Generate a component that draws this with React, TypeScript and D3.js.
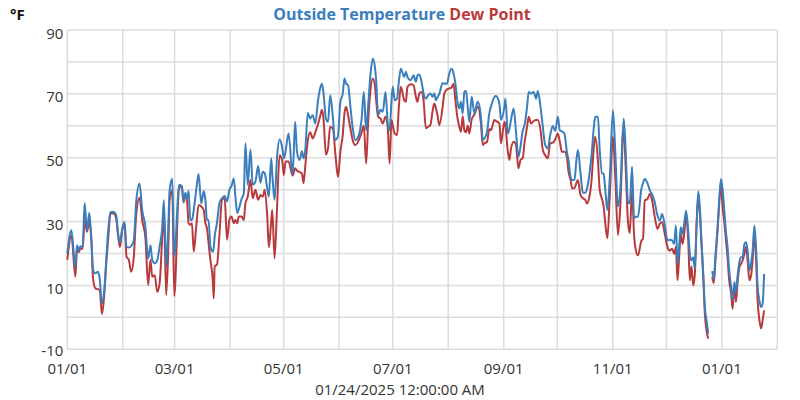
import React from 'react';
import * as d3 from 'd3';

// readings, x = days since 01/01/2024, null = no data
const days = [
  0, 2.3, 4.5, 5.4, 6.4, 7.3, 8.6, 9.7, 11.0, 12.3, 13.5, 14.4, 15.7, 17.2, 18.1, 19.4, 20.8, 21.9, 22.8, 24.1, 26.0, 27.3, 28.4, 29.4, 30.7,
  32.0, 33.1, 34.4, 35.7, 37.2, 38.5, 40.4, 41.9, 43.7, 45.2, 46.5, 47.5, 48.9, 50.3, 51.6, 53.1, 54.0, 55.3, 56.4, 57.2, 58.7, 59.8,
  62.6, 64.1, 65.0, 66.0, 66.9, 67.8, 68.8, 69.7, 70.7, 72.1, 73.4, 74.9, 76.3, 77.2, 78.1, 79.0, 80.0, 81.3, 81.9, 82.4, 83.7, 85.0, 86.5, 88.0, 89.3,
  90.6, 91.8, 93.1, 94.0, 95.0, 95.9, 97.4, 98.7, 99.6, 100.9, 102.4, 103.7, 105.2, 106.7, 108.0, 109.3, 110.4, 111.8, 112.7, 114.0, 114.6, 115.9, 117.3, 118.7, 120.1,
  121.1, 122.0, 123.7, 126.0, 127.4, 128.4, 129.9, 131.2, 132.1, 133.0, 134.5, 135.8, 137.2, 138.7, 140.2, 141.5, 142.4, 143.3, 144.6, 145.8, 147.0, 148.6, 149.6, 150.8, 151.4,
  152.7, 154.0, 155.0, 155.9, 157.0, 158.3, 159.6, 161.1, 163.0, 164.6, 165.8, 167.1, 168.2, 169.5, 170.8, 172.0, 172.7, 173.8, 175.1, 176.4, 177.9, 179.2, 180.2,
  181.3, 182.0, 183.1, 184.4, 185.4, 186.5, 188.4, 189.3, 190.2, 192.1, 193.6, 194.9, 195.8, 196.8, 198.1, 199.2, 200.5, 201.8, 203.0, 204.2, 205.2, 206.1, 207.1, 208.0, 209.9, 210.8,
  212.3, 213.6, 214.9, 216.0, 217.0, 218.3, 219.2, 220.1, 221.1, 222.0, 222.9, 223.9, 224.8, 226.1, 227.6, 229.5, 231.3, 232.3, 233.2, 234.7, 236.0, 236.9, 238.8, 239.7, 241.6,
  242.5, 244.4, 245.0, 246.3, 247.2, 248.1, 249.6, 250.9, 252.2, 253.4, 254.7, 255.6, 257.1, 258.0, 259.3, 260.8, 262.1, 263.1, 264.6, 265.9, 267.2, 268.7, 270.0, 271.5, 272.8,
  274.3, 275.4, 276.5, 278.0, 279.3, 280.3, 281.4, 282.3, 283.6, 284.6, 285.5, 287.0, 288.3, 289.6, 290.7, 292.0, 293.0, 294.5, 295.2, 296.7, 297.7, 299.0, 299.9, 300.8, 302.0, 303.3,
  305.1, 306.4, 307.9, 309.2, 311.1, 312.2, 313.5, 314.5, 315.8, 316.9, 317.6, 319.1, 321.0, 321.9, 322.9, 324.4, 325.7, 327.0, 328.5, 330.0, 331.3, 332.6, 334.1,
  335.6, 336.9, 338.2, 339.3, 340.3, 341.2, 342.1, 343.0, 344.0, 344.9, 346.0, 347.2, 348.1, 349.0, 350.0, 350.9, 351.8, 352.8, 353.7, 354.6, 355.6, 356.5, 357.4, 358.4,
  359.5, 360.6, 361.5, 362.5, 363.6, 364.5, 365.5,
  366.4, 367.3, 368.3, 369.2, 370.1, 371.1, 372.0, 373.0, 373.9, 374.8, 375.8, 376.7, 377.6, 378.6, 379.5, 380.4, 381.4, 382.3, 383.2, 384.2, 385.1, 386.0, 387.0, 387.9, 388.8, 389.6
];

const outsideTemp = [
  20, 27.3, 15.8, 22.6, 21, 22.3, 22, 35.8, 27.3, 32.7, 24.2, 14.8, 13.8, 14.3, 12.2, 4.4, 9.6, 19, 26.8, 33, 33, 32, 26.3, 23.3, 27.8,
  29.9, 22.1, 21.9, 22.3, 24.2, 36.1, 41.9, 33.5, 28.3, 18.4, 22.6, 17.9, 16.9, 17.9, 22.1, 28.3, 36.7, 15.8, 27.3, 39.8, 43.4, 19.2,
  41.5, 41, 36.3, 39, 37.3, 39.6, 30.5, 30.5, 33.6, 39.9, 44.9, 35.7, 39.6, 36.8, 30.5, 30.5, 22.2, 20.6, 22, 25.3, 29.5, 35.7, 37.3, 38, 36.3,
  39.9, 41.1, 43.5, 37.8, 32.6, 33.9, 37, 38.9, 54.5, 41.5, 52.6, 41.5, 42.5, 47.4, 42.2, 45.6, 45.1, 40.4, 37.8, 49.8, 45, 36.8, 50.3, 55.7, 53.4,
  49.8, 51.9, 57.6, 44.6, 61.3, 52, 49.3, 52, 49.8, 52, 64, 62.3, 63.3, 60.7, 68, 72, 73.2, 70, 62.3, 61.3, 69.6, 62, 55.5, 56, 57,
  67.5, 70, 74.8, 73.2, 72.7, 66, 59.2, 55.5, 57, 62.3, 70.6, 58.6, 66, 76, 81, 78.4, 74.3, 63.3, 65, 64.4, 70.6, 60.7, 58.6,
  68, 72.2, 68, 68.5, 74, 77.9, 75.3, 76.9, 75.3, 74.3, 75.8, 73.8, 75.8, 76.1, 73.8, 70.1, 68.5, 69.6, 70.1, 69.1, 70.1, 68, 69.1, 70, 73.4, 73.2,
  73.2, 76.4, 77.9, 76.4, 73.2, 67, 65.4, 67.5, 63.9, 70.6, 71, 66, 61.3, 69.1, 64, 67.5, 62.8, 55.5, 56, 58.1, 64, 66, 69, 69.3, 67,
  61.8, 66, 68.5, 57.6, 59, 61.8, 65.4, 58.1, 50.3, 53.4, 58.6, 60, 66, 70.6, 70.1, 70.6, 68.5, 70.9, 65.9, 59.7, 54, 52.9, 57.1, 59.9, 58.4,
  62.8, 58.6, 58.3, 57.5, 52, 49, 44, 43, 43, 48.8, 52.4, 45, 39, 39, 40.5, 45, 50, 60, 62.8, 62.8, 52.4, 45.1, 45, 40, 33.6, 43.5,
  64.9, 52, 34.7, 40, 62.3, 52.4, 36.3, 35.7, 47.2, 31, 31.5, 31.5, 40.2, 42, 43.3, 42, 39.8, 38.5, 36, 31.9, 30.3, 32.4, 28.8,
  24.1, 24.3, 24.1, 23, 28.8, 16.8, 22, 28.2, 26.1, 29.3, 33.4, 27.1, 19.9, 17.8, 18.8, 15.2, 28.2, 39.5, 34.5, 24.1, 13.6, 3.2, -0.9, -5.1,
  null, 14.5, 12.1, 19.9, 28.2, 36.6, 43.3,
  40.2, 34, 26.7, 22, 14.7, 10, 5.3, 11.1, 7.9, 13.1, 17.3, 18.8, 18.8, 23, 23.5, 20.9, 14.7, 16.8, 20.9, 28.8, 22, 9.5, 5.3, 3.2, 4.3, 13.6
];

const dewPoint = [
  18, 25.7, 12.7, 21, 20.5, 21.5, 21.5, 30.4, 26.8, 30, 23.5, 12.2, 9.1, 8.8, 8.7, 1.0, 8, 18, 24, 32.5, 32.5, 31, 25.7, 22, 27.3,
  29.4, 19, 18, 14.3, 19, 32, 37.5, 30.4, 24.7, 10.1, 18, 12.7, 13.2, 8.0, 10.6, 25.2, 33, 7, 20, 36.7, 39.8, 6.7,
  41, 40.4, 36, 38.3, 36.8, 29.5, 29, 29.5, 20.6, 28.4, 35.2, 34.7, 33.6, 29.5, 27.9, 23.2, 18, 12, 6, 16, 16.5, 25.3, 36.8, 37.3, 24.3,
  30.5, 31.6, 29.5, 30.5, 29.5, 31.6, 31.6, 30.5, 35.7, 37.8, 43, 37.3, 40, 36.8, 38.3, 37.8, 40, 31.6, 22, 30, 33.6, 18.5, 34.7, 50.8, 49.3,
  44.6, 48.8, 48.8, 44.4, 46.7, 46, 45.5, 45, 42, 47, 55.5, 58, 56, 58, 60.5, 63.3, 65, 62, 51, 53, 59.7, 59, 53, 46, 44,
  52, 57, 64, 66, 63.3, 59.2, 55.5, 54, 55.5, 58, 60, 48.2, 60.7, 71, 74.8, 72.7, 68, 62.8, 62.3, 60.7, 62.8, 59.2, 48.2,
  61.8, 60, 57.6, 57.1, 66, 72.2, 68, 67.5, 72.2, 73, 72.7, 69.1, 67.5, 70.1, 70.6, 68, 59.2, 59.7, 60.2, 64.4, 67, 65.5, 63, 60.2, 66, 70.1,
  71.4, 71.7, 72, 73.2, 68, 62, 59.7, 58.1, 63, 58.6, 58, 60, 57.6, 62, 63.5, 66, 60.7, 54, 54.5, 55, 59, 58.6, 61.8, 61.5, 60.7,
  54.5, 61.3, 60, 52, 49.3, 52.9, 55, 54, 46.7, 49.3, 50, 54.5, 59.7, 62.8, 60.7, 61.5, 61.8, 61.8, 58.6, 52.4, 50.8, 49.8, 54.5, 54.7, 55.7,
  57.6, 55, 51.9, 51.9, 50.3, 45.6, 43, 40.4, 40.4, 42, 43, 38.3, 37.3, 36.8, 35.7, 38, 42, 54, 56.6, 49.3, 39.9, 37, 34.7, 29.5, 24.8, 37.8,
  56.6, 44.1, 25.8, 34.7, 60, 47.2, 30, 26.4, 40, 26, 22, 19.4, 24, 24.6, 36.6, 37.1, 38.6, 36.6, 31.4, 27.7, 29.3, 29.8, 26.1,
  22, 20.9, 21.5, 19.9, 22, 11.6, 18.8, 26.1, 23, 26, 31.9, 24.1, 11.6, 16, 10, 13.6, 28, 37.6, 32.4, 23, 12.6, 1.1, -4.1, -6.7,
  null, 12.6, 10.7, 18.8, 27.2, 35.5, 42.3,
  34.5, 30.3, 24.1, 18.8, 11.6, 7.9, 2.7, 10, 4.8, 11.1, 15.7, 16.8, 17.8, 19.9, 22, 17.8, 11.6, 13, 17.8, 26.1, 18.8, 5.3, -0.9, -3.5, -0.9, 2.2
];

const yTicks = [-10, 10, 30, 50, 70, 90];
const seriesNames = ['Outside Temperature', 'Dew Point'];
const seriesColors = ['#3a7ebc', '#b83a3c'];
const xTitle = '01/24/2025 12:00:00 AM';

const width = 800;
const height = 400;
const margin = {top: 30, right: 22.7, bottom: 50.7, left: 67.3};

const startDate = new Date(2024, 0, 1);
const endDate = new Date(2025, 1, 1);
const toDate = (d: number) => new Date(startDate.getTime() + d * 86400000);

export default function App() {
  const x = d3.scaleTime()
    .domain([startDate, endDate])
    .range([margin.left, width - margin.right]);
  const y = d3.scaleLinear()
    .domain([-10, 90])
    .range([height - margin.bottom, margin.top]);

  const months = d3.timeMonth.range(startDate, d3.timeDay.offset(endDate, 1));
  const labelMonths = months.filter((m, i) => i % 2 === 0 && m < endDate);
  const fmt = d3.timeFormat('%m/%d');

  const line = d3.line<number>()
    .defined((v) => v != null)
    .x((_, i) => x(toDate(days[i])))
    .y((v) => y(v))
    .curve(d3.curveMonotoneX);

  const font = '"Open Sans", sans-serif';

  return (
    <svg width={width} height={height}
         style={{position: 'absolute', left: 0, top: 0, background: '#fff'}}
         fontFamily={font}>
      {/* grid */}
      <g stroke="#dcdcdc" strokeWidth={1.5}>
        {d3.range(-10, 91, 10).map((v) => (
          <line key={'h' + v} x1={margin.left} x2={width - margin.right} y1={y(v)} y2={y(v)}/>
        ))}
        {months.map((m) => (
          <line key={'v' + m.getTime()} x1={x(m)} x2={x(m)} y1={margin.top} y2={height - margin.bottom}/>
        ))}
      </g>

      {/* y labels */}
      {yTicks.map((v) => (
        <text key={'yl' + v} x={margin.left - 4} y={y(v) + (v === -10 ? 7 : 8.5)} textAnchor="end"
              fontSize={15} fill="#333">{v}</text>
      ))}

      {/* x labels */}
      {labelMonths.map((m) => (
        <text key={'xl' + m.getTime()} x={x(m)} y={374} textAnchor="middle"
              fontSize={15} fill="#333">{fmt(m)}</text>
      ))}

      {/* series */}
      <path d={line(dewPoint) || ''} fill="none" stroke={seriesColors[1]} strokeWidth={2} strokeLinejoin="round"/>
      <path d={line(outsideTemp) || ''} fill="none" stroke={seriesColors[0]} strokeWidth={2} strokeLinejoin="round"/>

      {/* titles */}
      <text x={10} y={20} fontSize={15} fontWeight="bold" fill="#111">°F</text>
      <text x={402} y={20} textAnchor="middle" fontSize={16} fontWeight="bold">
        <tspan fill={seriesColors[0]}>{seriesNames[0]}</tspan>
        <tspan fill={seriesColors[1]}> {seriesNames[1]}</tspan>
      </text>
      <text x={400} y={395} textAnchor="middle" fontSize={15} fill="#333">{xTitle}</text>
    </svg>
  );
}
